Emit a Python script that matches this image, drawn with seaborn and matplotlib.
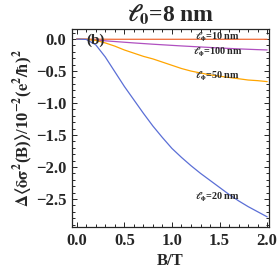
import matplotlib
matplotlib.use("Agg")
import matplotlib.pyplot as plt
import seaborn as sns
import numpy as np
from matplotlib.ticker import MultipleLocator, FuncFormatter

# field values (T)
B = [0.0, 0.1, 0.2, 0.3, 0.4, 0.5, 0.6, 0.7, 0.8, 0.9, 1.0,
     1.1, 1.2, 1.3, 1.4, 1.5, 1.6, 1.7, 1.8, 1.9, 2.0]

# curves, one per l_phi
l10 = [0.0, -0.001, -0.002, -0.002, -0.003, -0.003, -0.003, -0.003, -0.003, -0.003, -0.003,
       -0.003, -0.003, -0.003, -0.003, -0.003, -0.003, -0.003, -0.003, -0.003, -0.003]
l100 = [0.0, -0.004, -0.015, -0.027, -0.038, -0.049, -0.06, -0.07, -0.08, -0.089, -0.098,
        -0.107, -0.115, -0.123, -0.131, -0.139, -0.146, -0.153, -0.159, -0.165, -0.17]
l50 = [0.0, -0.004, -0.02, -0.06, -0.11, -0.17, -0.22, -0.27, -0.31, -0.36, -0.41,
       -0.46, -0.50, -0.53, -0.56, -0.58, -0.60, -0.62, -0.64, -0.65, -0.665]
l20 = [0.0, -0.005, -0.09, -0.28, -0.51, -0.74, -0.95, -1.16, -1.36, -1.54, -1.71,
       -1.85, -1.98, -2.10, -2.21, -2.32, -2.43, -2.53, -2.62, -2.70, -2.78]

labels = [r"$\ell_\phi$=10 nm", r"$\ell_\phi$=100 nm", r"$\ell_\phi$=50 nm", r"$\ell_\phi$=20 nm"]
label_y = [0.025, -0.21, -0.59, -2.48]
colors = ["#f06a35", "#b050c0", "#ffa500", "#5b6fd6"]

sns.set_style("ticks")
plt.rcParams["font.family"] = ["Liberation Serif", "DejaVu Serif"]
plt.rcParams["font.weight"] = "bold"
plt.rcParams["mathtext.fontset"] = "stix"
plt.rcParams["mathtext.default"] = "bf"

fig = plt.figure(figsize=(2.8, 2.8), dpi=100)
ax = fig.add_axes([0.257, 0.189, 0.704, 0.707])

for ys, c in zip([l10, l100, l50, l20], colors):
    sns.lineplot(x=B, y=ys, color=c, linewidth=0.9, ax=ax)

for lab, yy in zip(labels, label_y):
    ax.text(1.48, yy, lab, fontsize=7.3, fontweight="bold", ha="center", va="center")

ax.text(0.2, -0.02, "(b)", fontsize=11, fontweight="bold", ha="center", va="center")

ax.set_xlim(-0.05, 2.02)
ax.set_ylim(-2.94, 0.156)
ax.xaxis.set_major_locator(MultipleLocator(0.5))
ax.xaxis.set_minor_locator(MultipleLocator(0.1))
ax.yaxis.set_major_locator(MultipleLocator(0.5))
ax.yaxis.set_minor_locator(MultipleLocator(0.1))
ax.xaxis.set_major_formatter(FuncFormatter(lambda v, p: "%.1f" % v))
ax.yaxis.set_major_formatter(FuncFormatter(lambda v, p: ("%.1f" % v).replace("-", "\u2212")))
ax.tick_params(which="both", direction="in", top=True, right=True, labelsize=12, width=0.7)
ax.tick_params(which="major", length=3.5, pad=4)
ax.tick_params(which="minor", length=2)
for lbl in ax.get_xticklabels() + ax.get_yticklabels():
    lbl.set_fontweight("bold")
for s in ax.spines.values():
    s.set_linewidth(0.9)

ax.set_title(r"$\ell_0$=8 nm", fontsize=17, fontweight="bold", pad=5)
ax.set_xlabel("B/T", fontsize=12, fontweight="bold", labelpad=3)
ax.set_ylabel(r"$\Delta\langle\delta\sigma^2$(B)$\rangle$/10$^{-2}$($e^2/\hbar$)$^2$", fontsize=12, fontweight="bold", labelpad=1)

fig.savefig("out.png", dpi=100)
